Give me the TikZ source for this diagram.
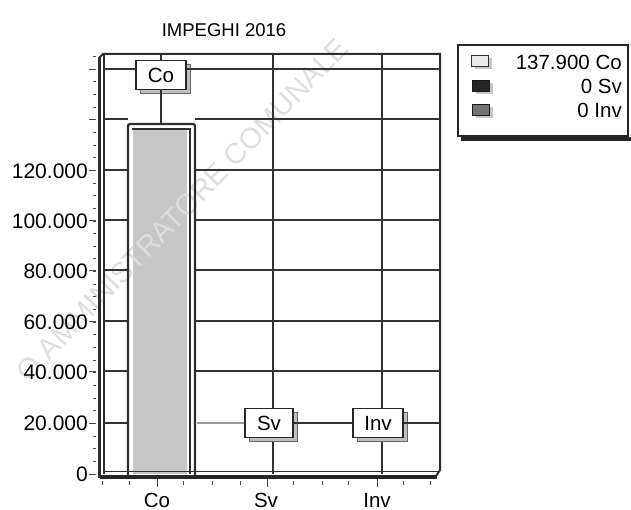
\documentclass[tikz,border=0pt]{standalone}
\usepackage{fontspec}
\setmainfont{Liberation Sans}
\newfontfamily\wmfont{Liberation Sans}
\usetikzlibrary{shadows}
\begin{document}
\begin{tikzpicture}[x=1pt,y=-1pt,
  grid/.style={draw=black!80, line width=1.3pt},
  frame/.style={draw=black!82, line width=2pt},
  lead/.style={draw=black!40, line width=1.3pt},
  valbox/.style={draw=black!85, line width=1.6pt, fill=white, inner sep=0pt,
    minimum height=29pt, font=\fontsize{20.5}{21}\selectfont, text=black,
    general shadow={fill=black!25, draw=black!60, line width=1pt, shadow xshift=4pt, shadow yshift=-4pt}},
  ylab/.style={anchor=east, font=\fontsize{21}{21}\selectfont, text=black, inner sep=0pt},
  xlab/.style={font=\fontsize{20.5}{21}\selectfont, text=black, inner sep=0pt},
  legtxt/.style={anchor=east, font=\fontsize{20.5}{21}\selectfont, text=black, inner sep=0pt},
  legicon/.style={minimum width=17pt, minimum height=11pt, inner sep=0pt, line width=1.2pt,
    general shadow={fill=black!22, shadow xshift=3pt, shadow yshift=-3pt}},
  tick/.style={draw=black!70, line width=0.9pt}]
\useasboundingbox (0,0) rectangle (631,510);
% bar Co fill
\fill[black!22] (133,130) rectangle (187,474);
% watermark
\node[rotate=46, text=black!13, font=\wmfont\fontsize{29}{29}\selectfont] (wm) at (182,210) {O AMMINISTRATORE COMUNALE};
% title
\node[font=\fontsize{18.5}{18}\selectfont, text=black] (title) at (224,30) {IMPEGHI 2016};
% grid lines
\foreach \y in {119,170,220,270,321,371} {
  \draw[grid] (104,\y) -- (128,\y);
  \draw[grid] (195,\y) -- (440,\y);}
\draw[grid] (273,54) -- (273,474);
\draw[grid] (382,54) -- (382,474);
% frame
\draw[frame] (99,58) -- (103,54) -- (440,54) -- (440,470) -- (436,476);
\draw[draw=black!82, line width=3pt] (99,57) -- (99,478);
\draw[draw=black!82, line width=1.2pt] (104,54) -- (104,474);
\draw[draw=black!85, line width=3.5pt] (100,477) -- (437,477);
\draw[draw=black!82, line width=1pt] (104,471) -- (440,471);
% bar Co frame
\draw[draw=black!82, line width=2.2pt, rounded corners=2pt] (128,476) -- (128,124) -- (195,124) -- (195,476);
\draw[draw=black!82, line width=1.5pt] (132,129) -- (190,129) -- (190,474);
\coordinate (barTop) at (161,124);
% value labels
\node[valbox, minimum width=50pt] (Co) at (161,75) {Co};
\node[valbox, minimum width=48pt] (Sv) at (269,423) {Sv};
\node[valbox, minimum width=50pt] (Inv) at (378,423) {Inv};
\coordinate (g69l) at (104,69);
\coordinate (g69r) at (440,69);
\coordinate (g423l) at (104,423);
\coordinate (g423b) at (128,423);
\coordinate (barR) at (197,423);
\coordinate (g423r) at (440,423);
\draw[grid] (g69l) -- (g69l -| Co.west);
\draw[grid] (g69r -| Co.east) -- (g69r);
\draw[grid] (g423l) -- (g423b);
\draw[grid] (Co.south) -- (barTop);
\draw[grid] (Co.north) -- (Co.north |- 0,54);
\draw[lead] (barR) -- (Sv.west);
\draw[grid] (Sv.east) -- (Inv.west);
\draw[grid] (Inv.east) -- (g423r);
% y ticks
\foreach \i in {0,...,33} \draw[tick] (93,{474-\i*12.65}) -- (96,{474-\i*12.65});
\foreach \y in {69,119,170,220,270,321,371,423,474} \draw[tick] (89,\y) -- (96,\y);
% y labels
\node[ylab] (y120) at (88,171) {120.000};
\node[ylab] (y100) at (88,221) {100.000};
\node[ylab] (y80) at (88,271) {80.000};
\node[ylab] (y60) at (88,322) {60.000};
\node[ylab] (y40) at (88,372) {40.000};
\node[ylab] (y20) at (88,423) {20.000};
\node[ylab] (y0) at (88,474) {0};
% x ticks
\foreach \x in {102,129,183,212,240,293,322,348,403,430} \draw[tick] (\x,481) -- (\x,485);
\foreach \x in {157,267,377} \draw[tick] (\x,479) -- (\x,487);
% x labels
\node[xlab] (xCo) at (157,500) {Co};
\node[xlab] (xSv) at (266,500) {Sv};
\node[xlab] (xInv) at (377,500) {Inv};
% legend
\draw[draw=black!85, line width=1.5pt] (458,45) rectangle (628,136);
\draw[draw=black!85, line width=4pt] (461,139) -- (631,139);
\node[legicon, draw=black!80, fill=black!8] (i1) at (480,61) {};
\node[legicon, draw=black!90, fill=black!85] (i2) at (481,86) {};
\node[legicon, draw=black!90, fill=black!55, line width=1.6pt] (i3) at (481,110) {};
\node[legtxt] (l1) at (622,62) {137.900 Co};
\node[legtxt] (l2) at (622,86) {0 Sv};
\node[legtxt] (l3) at (622,110) {0 Inv};
\end{tikzpicture}
\end{document}
